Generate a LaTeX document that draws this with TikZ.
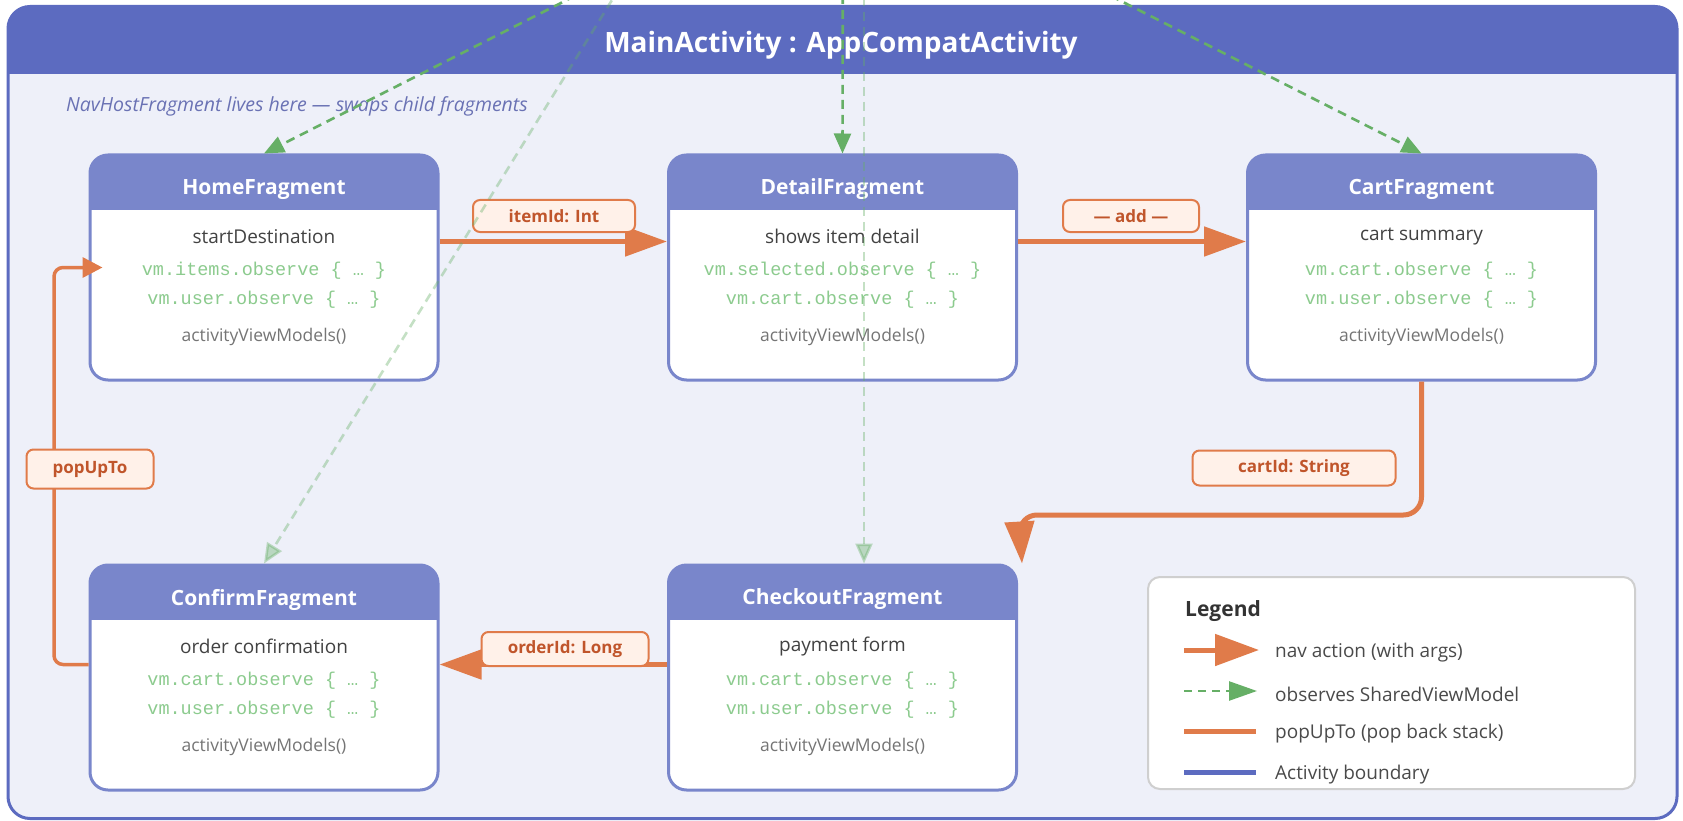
\documentclass[tikz,border=0pt]{standalone}
\usepackage{fontspec}
\setmainfont{Open Sans}
\setmonofont{Liberation Mono}
\usetikzlibrary{arrows.meta,calc}

\definecolor{frameblue}{HTML}{5C6BC0}
\definecolor{bodybg}{HTML}{EEF0F9}
\definecolor{cardhd}{HTML}{7986CB}
\definecolor{navor}{HTML}{E07B4A}
\definecolor{lbltext}{HTML}{C0552B}
\definecolor{lblfill}{HTML}{FFF1E9}
\definecolor{obsgreen}{HTML}{66AF66}
\definecolor{codegreen}{HTML}{8CCB8E}
\definecolor{subtext}{HTML}{424242}
\definecolor{notetext}{HTML}{757575}
\definecolor{hinttext}{HTML}{6A72B4}
\definecolor{legendline}{HTML}{CFCFCF}
\definecolor{legtext}{HTML}{4A4A4A}

\newcommand\fsz[1]{\fontsize{#1}{#1}\selectfont}

\tikzset{
  activity/.style={draw=frameblue, line width=3pt, fill=bodybg, rounded corners=22pt,
    minimum width=1669pt, minimum height=812pt, inner sep=0pt,
    path picture={\fill[frameblue, sharp corners] ([yshift=4pt]path picture bounding box.north west)
      rectangle ([yshift=-68pt]path picture bounding box.north east);}},
  card/.style={draw=cardhd, line width=3pt, fill=white, rounded corners=18pt,
    minimum width=348pt, minimum height=225pt, inner sep=0pt,
    path picture={\fill[cardhd, sharp corners] ([yshift=4pt]path picture bounding box.north west)
      rectangle ([yshift=-55pt]path picture bounding box.north east);}},
  cardtitle/.style={text=white, font=\bfseries\fsz{21}, inner sep=0pt},
  cardsub/.style={text=subtext, font=\fsz{19}, inner sep=0pt},
  cardcode/.style={text=codegreen, font=\ttfamily\fsz{18.5}, inner sep=0pt},
  cardnote/.style={text=notetext, font=\fsz{17.5}, inner sep=0pt},
  argbox/.style={draw=navor, line width=2pt, fill=lblfill, rounded corners=7pt,
    text=lbltext, font=\bfseries\fsz{17}, minimum height=32pt, inner sep=0pt},
  nav/.style={draw=navor, line width=5pt, -{Triangle[length=42pt,width=29pt]}},
  popline/.style={draw=navor, line width=3.5pt, rounded corners=9pt},
  obs/.style={draw=obsgreen, line width=2.6pt, dash pattern=on 9pt off 6pt,
    -{Triangle[length=20pt,width=17pt]}},
  obsfaint/.style={obs, draw opacity=0.38, fill opacity=0.38},
  legtxt/.style={text=legtext, font=\fsz{19}, anchor=west, inner sep=0pt},
}

\newcommand\fragcard[6]{%
  \node[card] (#1) at (#2) {};
  \node[cardtitle] (#1-title) at ([yshift=-36pt]#1.north) {#3};
  \node[cardsub] (#1-sub) at ([yshift=-83pt]#1.north) {#4};
  \node[cardcode] (#1-obsA) at ([yshift=-117pt]#1.north) {#5};
  \node[cardcode] (#1-obsB) at ([yshift=-146pt]#1.north) {#6};
  \node[cardnote] (#1-vm) at ([yshift=-183pt]#1.north) {activityViewModels()};
}

\begin{document}
\begin{tikzpicture}[x=1pt, y=-1pt]
\useasboundingbox[fill=white] (0,0) rectangle (1683,821);

% activity container
\node[activity] (main) at (842.5,412.5) {};
\node[text=white, font=\bfseries\fsz{28}, inner sep=0pt] (main-title) at (841,45)
  {MainActivity : AppCompatActivity};
\node[text=hinttext, font=\itshape\fsz{19.5}, anchor=west, inner sep=0pt] (hint) at (66,106)
  {NavHostFragment lives here — swaps child fragments};

% fragments
\fragcard{home}{264,267.5}{HomeFragment}{startDestination}
  {vm.items.observe \{ … \}}{vm.user.observe \{ … \}}
\fragcard{detail}{842.5,267.5}{DetailFragment}{shows item detail}
  {vm.selected.observe \{ … \}}{vm.cart.observe \{ … \}}
\fragcard{cart}{1421.5,267.5}{CartFragment}{cart summary}
  {vm.cart.observe \{ … \}}{vm.user.observe \{ … \}}
\fragcard{confirm}{264,677.5}{ConfirmFragment}{order confirmation}
  {vm.cart.observe \{ … \}}{vm.user.observe \{ … \}}
\fragcard{checkout}{842.5,677.5}{CheckoutFragment}{payment form}
  {vm.cart.observe \{ … \}}{vm.user.observe \{ … \}}

% navigation actions
\draw[nav] ([yshift=-88pt]home.north east) -- ([yshift=-88pt]detail.north west);
\draw[nav] ([yshift=-88pt]detail.north east) -- ([yshift=-88pt]cart.north west);
\coordinate (turn) at (1019,515);
\draw[nav, rounded corners=18pt] (cart.south) -- (cart.south |- turn) -- (turn)
  -- ([xshift=4pt]checkout.north east);
\draw[nav] ([yshift=-101pt]checkout.north west) -- ([yshift=-101pt]confirm.north east);

% popUpTo back to the start destination
\coordinate (rail) at (54,468);
\draw[popline, -{Triangle[length=20pt,width=20pt]}]
  ([yshift=-101pt]confirm.north west) -| (rail) |- ([yshift=-114pt,xshift=14pt]home.north west);

% argument labels
\node[argbox, minimum width=162pt] (arg-item) at (554,216) {itemId: Int};
\node[argbox, minimum width=136pt] (arg-add) at (1131,216) {— add —};
\node[argbox, minimum width=203pt, minimum height=35pt] (arg-cart) at (1294,468) {cartId: String};
\node[argbox, minimum width=167pt, minimum height=34pt] (arg-order) at (565,649) {orderId: Long};
\node[argbox, minimum width=127pt, minimum height=39pt] (arg-pop) at (90,469) {popUpTo};

% legend
\node[draw=legendline, line width=2pt, fill=white, rounded corners=12pt,
  minimum width=487pt, minimum height=212pt] (legend) at (1391.5,683) {};
\node[text=black!80, font=\bfseries\fsz{21}, anchor=west, inner sep=0pt] (legend-title) at (1185,611) {Legend};
\coordinate (k1a) at (1184,650); \coordinate (k1b) at (1259,650);
\coordinate (k2a) at (1184,691); \coordinate (k2b) at (1257,691);
\coordinate (k3a) at (1184,731); \coordinate (k3b) at (1256,731);
\coordinate (k4a) at (1184,772); \coordinate (k4b) at (1256,772);
\draw[nav, -{Triangle[length=44pt,width=31pt]}] (k1a) -- (k1b);
\draw[obs, line width=2.5pt, dash pattern=on 8pt off 6pt, -{Triangle[length=28pt,width=19pt]}] (k2a) -- (k2b);
\draw[draw=navor, line width=5pt] (k3a) -- (k3b);
\draw[draw=frameblue, line width=5pt] (k4a) -- (k4b);
\node[legtxt] (k1t) at (1275,653) {nav action (with args)};
\node[legtxt] (k2t) at (1275,694) {observes SharedViewModel};
\node[legtxt] (k3t) at (1275,734) {popUpTo (pop back stack)};
\node[legtxt] (k4t) at (1275,775) {Activity boundary};

% shared view model observers (source sits above the activity)
\begin{scope}
\clip (0,0) rectangle (1683,821);
\coordinate (vmA) at (843,-140);
\coordinate (vmB) at (864,-408);
\draw[obs] (vmA) -- (home.north);
\draw[obs] (vmA) -- (detail.north);
\draw[obs] (vmA) -- (cart.north);
\draw[obsfaint] (vmB) -- (confirm.north);
\draw[obsfaint] (vmB) -- ([xshift=21.5pt]checkout.north);
\end{scope}
\end{tikzpicture}
\end{document}
